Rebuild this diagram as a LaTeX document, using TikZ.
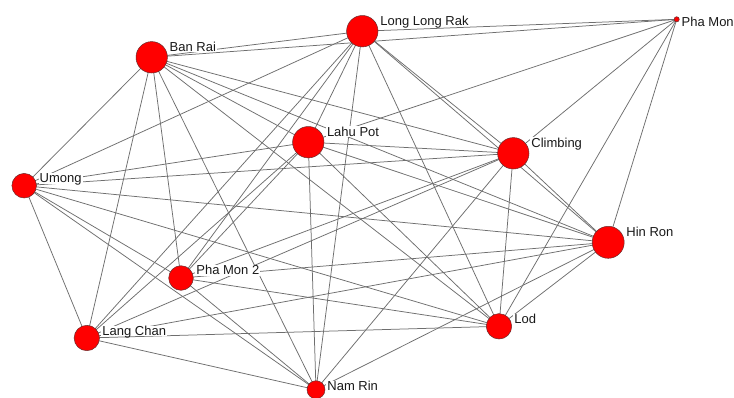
\documentclass[tikz,border=0pt]{standalone}
\usepackage{fontspec}
\setmainfont{Liberation Sans}
\usetikzlibrary{backgrounds}
\definecolor{edgegray}{RGB}{110,110,110}
\definecolor{nodered}{RGB}{255,0,0}
\definecolor{nodeline}{RGB}{105,45,45}
\begin{document}
\begin{tikzpicture}[x=1pt,y=-1pt,
  vtx/.style={circle,draw=nodeline,line width=0.5pt,fill=nodered,inner sep=0pt,minimum size=#1},
  lbl/.style={anchor=north west,fill=white,inner xsep=1pt,inner ysep=0.5pt,text height=9.3pt,text depth=0.3pt,font=\fontsize{13}{13}\selectfont,text=black!90},
  edge/.style={draw=edgegray,line width=0.75pt}]
\useasboundingbox (0,0) rectangle (734,397);
\clip (0,0) rectangle (734,397);
% vertices
\node[vtx=31.4pt] (br)  at (151.7,57.3) {};
\node[vtx=31.4pt] (llr) at (362.3,31.2) {};
\node[vtx=5.2pt]  (pm)  at (676.7,19.3) {};
\node[vtx=31.4pt] (lp)  at (308.3,142.2) {};
\node[vtx=31.4pt] (cl)  at (513.3,153.3) {};
\node[vtx=24.6pt] (um)  at (24.2,185.7) {};
\node[vtx=32pt]   (hr)  at (608.2,242.3) {};
\node[vtx=24.6pt] (pm2) at (181,278) {};
\node[vtx=25.4pt] (lc)  at (86.8,338) {};
\node[vtx=25.4pt] (lod) at (499,326.3) {};
\node[vtx=18pt]   (nr)  at (316,389.7) {};
% edges
\begin{pgfonlayer}{background}
\fill[white] (0,0) rectangle (734,397);
\foreach \a/\b in {pm/llr,pm/br,pm/lp,pm/cl,pm/lod,pm/hr,
  br/um,br/lc,br/pm2,br/nr,br/llr,br/cl,br/hr,br/lp,br/lod,
  llr/um,llr/pm2,llr/lp,llr/nr,llr/lod,llr/cl,llr/hr,llr/lc,
  lp/um,lp/lc,lp/pm2,lp/nr,lp/lod,lp/cl,lp/hr,
  cl/um,cl/pm2,cl/lc,cl/nr,cl/lod,cl/hr,
  um/hr,um/lod,um/pm2,um/nr,um/lc,
  hr/pm2,hr/lc,hr/nr,hr/lod,
  lod/lc,lod/pm2,pm2/nr,lc/nr}
  \draw[edge] (\a.center) -- (\b.center);
\end{pgfonlayer}
% labels
\node[lbl] (br-l)  at (168.5,41.2)  {Ban Rai};
\node[lbl] (llr-l) at (379.2,15.5)  {Long Long Rak};
\node[lbl] (pm-l)  at (680.5,16.2)  {Pha Mon};
\node[lbl] (lp-l)  at (325.8,126.2) {Lahu Pot};
\node[lbl] (cl-l)  at (530.2,137.2) {Climbing};
\node[lbl] (um-l)  at (38.5,172.9)  {Umong};
\node[lbl] (hr-l)  at (625.2,226.5) {Hin Ron};
\node[lbl] (lod-l) at (513.2,313.8) {Lod};
\node[lbl] (pm2-l) at (195.2,264.8) {Pha Mon 2};
\node[lbl] (lc-l)  at (101.2,325.5) {Lang Chan};
\node[lbl] (nr-l)  at (326.2,380.8) {Nam Rin};
\end{tikzpicture}
\end{document}
